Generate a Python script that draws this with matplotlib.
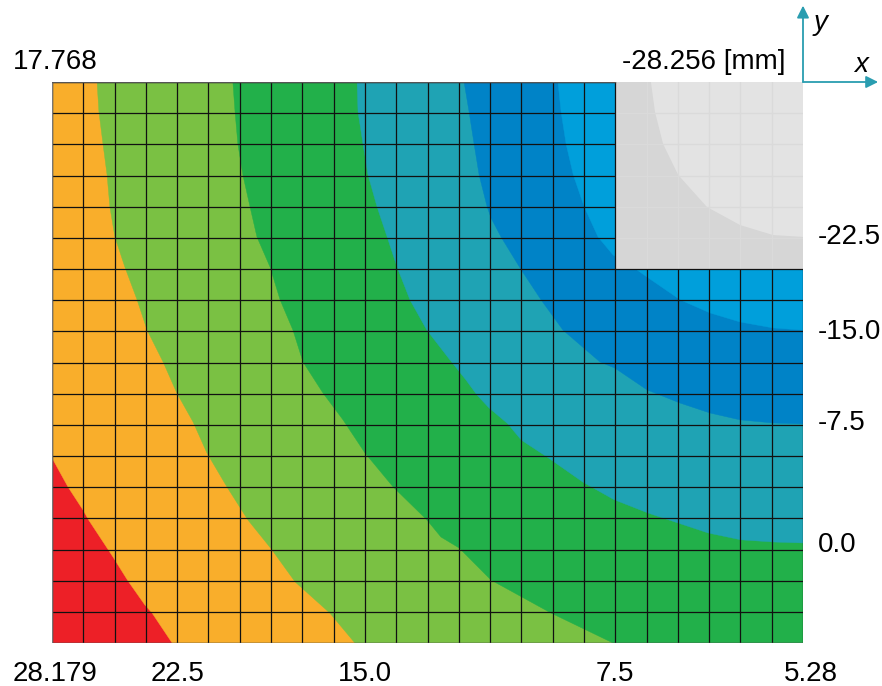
import matplotlib
matplotlib.use("Agg")
import matplotlib.pyplot as plt
from matplotlib.patches import Polygon, Rectangle

# ---- mesh (cells) ----
n_cols = 24
n_rows = 18
hole_col0 = 18   # hole occupies columns 18..24, rows 0..6 (top-right)
hole_rows = 6

# ---- band colours (from low x-side to hole side) ----
band_colors = ["#ED2027", "#F9AE2B", "#7AC143", "#22B04A", "#1FA3B4", "#0083C7", "#009FDB"]
hole_dark = "#D6D6D6"
hole_light = "#E3E3E3"
arrow_color = "#2A9DB0"

iso_red_orange_x = [0.00, 0.51, 0.99, 1.15, 1.95, 2.43, 2.97, 3.20, 3.84]
iso_red_orange_y = [12.06, 12.99, 13.73, 14.02, 15.24, 16.01, 16.78, 17.04, 18.00]

iso_orange_lgreen_x = [1.44, 1.50, 1.63, 1.76, 1.85, 2.01, 2.33, 2.72, 3.04, 3.55, 3.99,
                       4.51, 4.95, 5.59, 6.26, 7.03, 7.77, 8.88, 9.68]
iso_orange_lgreen_y = [0.00, 0.96, 1.99, 2.98, 4.01, 4.97, 5.94, 6.99, 7.96, 8.98, 9.98,
                       10.91, 11.90, 12.99, 14.05, 15.01, 16.04, 17.04, 18.00]

iso_lgreen_green_x = [5.78, 5.85, 5.94, 6.10, 6.33, 6.55, 6.97, 7.29, 7.70, 8.02, 8.66,
                      9.30, 10.00, 10.90, 11.98, 12.43, 13.01, 14.03, 15.95, 17.93]
iso_lgreen_green_y = [0.00, 0.96, 1.99, 2.98, 4.01, 4.97, 5.94, 6.99, 7.96, 8.98, 9.98,
                      10.84, 11.90, 12.99, 14.05, 14.60, 14.95, 15.98, 17.04, 18.00]

iso_green_teal_x = [9.75, 9.78, 9.94, 10.10, 10.39, 10.71, 11.03, 11.44, 11.98, 12.72,
                    13.23, 13.58, 13.97, 14.56, 15.00, 15.82, 16.97, 17.96, 19.05, 20.01,
                    20.97, 22.02, 23.07, 24.00]
iso_green_teal_y = [0.00, 0.96, 1.99, 2.98, 4.01, 4.97, 5.94, 6.99, 7.96, 8.92,
                    9.56, 10.04, 10.46, 10.96, 11.49, 12.03, 12.84, 13.40, 13.83, 14.15,
                    14.47, 14.69, 14.76, 14.79]

iso_teal_blue_x = [13.17, 13.33, 13.49, 13.65, 13.90, 14.03, 14.35, 14.96, 15.63, 16.33,
                   17.51, 17.99, 19.02, 20.07, 21.03, 21.99, 23.04, 24.00]
iso_teal_blue_y = [0.00, 0.96, 1.99, 2.98, 3.98, 4.36, 4.97, 5.97, 6.99, 7.96,
                   8.98, 9.18, 9.88, 10.30, 10.62, 10.84, 10.94, 10.97]

iso_blue_lblue_x = [16.17, 16.27, 16.43, 16.66, 17.00, 17.45, 17.93, 18.57, 19.02, 20.08,
                    21.03, 21.99, 23.04, 24.00]
iso_blue_lblue_y = [0.00, 0.96, 1.99, 2.98, 3.98, 4.97, 5.55, 5.94, 6.26, 6.99,
                    7.41, 7.70, 7.89, 7.96]

iso_hole_x = [19.14, 19.27, 19.53, 20.01, 20.93, 21.99, 23.04, 24.00]
iso_hole_y = [0.00, 0.96, 1.99, 2.98, 4.01, 4.59, 4.91, 4.97]

# ---- labels ----
x_tick_pos = [0.10, 4.0, 10.0, 18.0, 24.25]
x_tick_labels = ["28.179", "22.5", "15.0", "7.5", "5.28"]
y_tick_pos = [4.97, 8.02, 10.94, 14.86]
y_tick_labels = ["-22.5", "-15.0", "-7.5", "0.0"]
top_left_label = "17.768"
top_right_label = "-28.256 [mm]"

plt.rcParams['font.family'] = ['Liberation Sans', 'DejaVu Sans']
fs = 20

fig = plt.figure(figsize=(8.82, 6.86), dpi=100)
ax = fig.add_axes([52 / 882, 43 / 686, 751 / 882, 561 / 686])
ax.set_xlim(0, n_cols)
ax.set_ylim(n_rows, 0)
ax.axis('off')

# base band
ax.add_patch(Rectangle((0, 0), n_cols, n_rows, facecolor=band_colors[0], edgecolor='none', zorder=1))

def region(xs, ys):
    pts = list(zip(xs, ys))
    end_y = ys[-1]
    if end_y >= n_rows - 1e-6:          # ends on bottom edge
        pts += [(n_cols, n_rows), (n_cols, 0)]
    else:                                # ends on right edge
        pts += [(n_cols, 0)]
    if ys[0] > 1e-6:                     # starts on left edge
        pts += [(0, 0)]
    return pts

isos = [(iso_red_orange_x, iso_red_orange_y),
        (iso_orange_lgreen_x, iso_orange_lgreen_y),
        (iso_lgreen_green_x, iso_lgreen_green_y),
        (iso_green_teal_x, iso_green_teal_y),
        (iso_teal_blue_x, iso_teal_blue_y),
        (iso_blue_lblue_x, iso_blue_lblue_y)]
for (xs, ys), col in zip(isos, band_colors[1:]):
    ax.add_patch(Polygon(region(xs, ys), closed=True, facecolor=col, edgecolor=col, lw=0.3, zorder=2))

# hole
ax.add_patch(Rectangle((hole_col0, 0), n_cols - hole_col0, hole_rows, facecolor=hole_dark,
                       edgecolor='none', zorder=3))
ax.add_patch(Polygon(region(iso_hole_x, iso_hole_y), closed=True, facecolor=hole_light,
                     edgecolor='none', zorder=3))

# mesh lines
lc = '#111111'
lw = 0.9
for c in range(n_cols + 1):
    if c <= hole_col0:
        ax.plot([c, c], [0, n_rows], color=lc, lw=lw, zorder=4, solid_capstyle='butt')
    else:
        ax.plot([c, c], [hole_rows, n_rows], color=lc, lw=lw, zorder=4, solid_capstyle='butt')
        if c < n_cols:
            ax.plot([c, c], [0, hole_rows], color='#DADADA', lw=1.0, zorder=3.5)
for r in range(n_rows + 1):
    if r < hole_rows:
        ax.plot([0, hole_col0], [r, r], color=lc, lw=lw, zorder=4, solid_capstyle='butt')
        if r > 0:
            ax.plot([hole_col0, n_cols], [r, r], color='#DADADA', lw=1.0, zorder=3.5)
    else:
        ax.plot([0, n_cols], [r, r], color=lc, lw=lw, zorder=4, solid_capstyle='butt')
# outer frame (grey)
ax.plot([0, 0, n_cols], [0, n_rows, n_rows], color='#777777', lw=1.0, zorder=5)
ax.plot([0, hole_col0], [0, 0], color='#555555', lw=1.0, zorder=5)

# tick labels
for p, t in zip(x_tick_pos, x_tick_labels):
    ax.text(p, 19.0, t, ha='center', va='center', fontsize=fs, clip_on=False)
for p, t in zip(y_tick_pos, y_tick_labels):
    ax.text(24.48, p, t, ha='left', va='center', fontsize=fs, clip_on=False)
ax.text(-1.25, -0.65, top_left_label, ha='left', va='center', fontsize=fs, clip_on=False)
ax.text(23.45, -0.65, top_right_label, ha='right', va='center', fontsize=fs, clip_on=False)

# coordinate arrows
ax.annotate('', xy=(24, -2.45), xytext=(24, 0),
            arrowprops=dict(arrowstyle='-|>', color=arrow_color, lw=1.3, mutation_scale=18,
                            shrinkA=0, shrinkB=0), annotation_clip=False)
ax.annotate('', xy=(26.4, 0), xytext=(24, 0),
            arrowprops=dict(arrowstyle='-|>', color=arrow_color, lw=1.3, mutation_scale=18,
                            shrinkA=0, shrinkB=0), annotation_clip=False)
ax.text(24.55, -1.9, 'y', ha='center', va='center', fontsize=fs, style='italic', clip_on=False)
ax.text(25.85, -0.55, 'x', ha='center', va='center', fontsize=fs, style='italic', clip_on=False)

fig.savefig('out.png', dpi=100)
